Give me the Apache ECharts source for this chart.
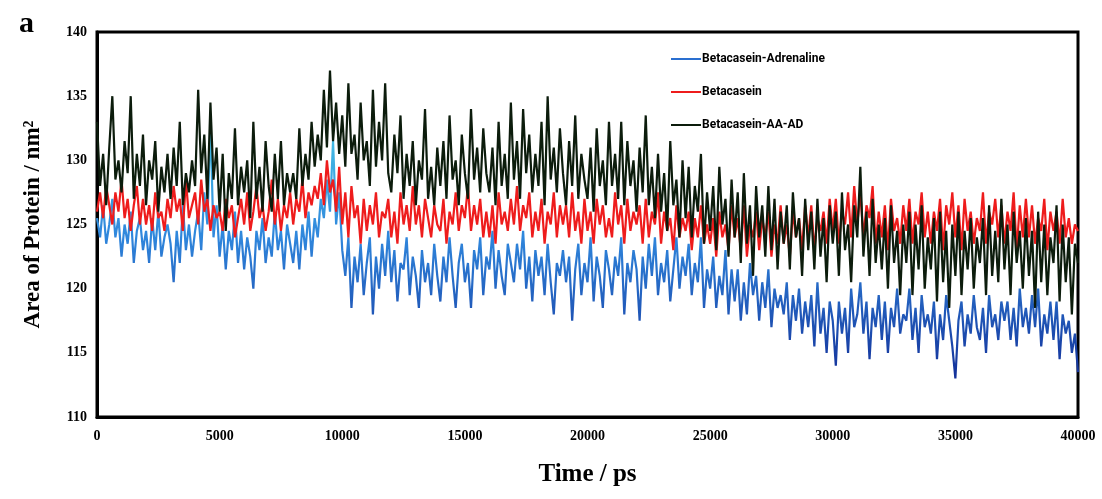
<!DOCTYPE html>
<html>
<head>
<meta charset="utf-8">
<script src="https://cdn.jsdelivr.net/npm/echarts@6/dist/echarts.min.js"></script>
<style>
    html, body { margin: 0; padding: 0; background: #fff; }
    #chart { width: 1102px; height: 499px; }
</style>
</head>
<body>
<div id="chart"></div>
<script>
    // sample spacing of the traces, ps
    const STEP = 125;

    const seriesNames = ['Betacasein-Adrenaline', 'Betacasein', 'Betacasein-AA-AD'];
    const xTicks = [0, 5000, 10000, 15000, 20000, 25000, 30000, 35000, 40000];
    const yTicks = [110, 115, 120, 125, 130, 135, 140];

    // area values, nm^2 (one row = 1000 ps)
    const adrenaline = [
        125.5, 124, 126.5, 123.5, 125, 127, 124, 125.5,
        122.5, 125, 123.5, 126, 122, 124.5, 125.5, 123,
        124.5, 122, 125.5, 123, 126, 122.5, 124, 125,
        123.5, 120.5, 124.5, 122, 126.5, 123, 125, 122.5,
        124.5, 126, 123, 127.5, 125, 133, 124, 126.5,
        122.5, 125, 121.5, 124.5, 123, 126, 122, 124.5,
        121.5, 124, 122.5, 120, 124.5, 123, 125.5, 122,
        124, 122.5, 126, 123, 124.5, 121.5, 125, 123.5,
        122, 124.5, 121.5, 125, 123, 126, 122.5, 125.5,
        124, 127, 125.5, 128.5, 126, 131.5, 125, 127.5,
        123, 121, 124, 118.5, 122.5, 120.5, 123.5, 119.5,
        122, 124, 118, 122.5, 120, 123.5, 121, 124.5,
        120.5, 123, 119, 122, 121.5, 124, 119.5, 122.5,
        121, 118.5, 123, 120.5, 122, 119.5, 123.5, 121,
        119, 122.5, 120.5, 124, 121, 118.5, 122, 123.5,
        120.5, 122, 118.5, 123, 121.5, 124, 119.5, 122.5,
        121.5, 124.5, 120, 123, 121, 119.5, 123.5, 122,
        120.5, 123.5, 121.5, 124.5, 120, 122.5, 119, 123,
        121, 122.5, 119.5, 123.5, 120.5, 118, 122, 121,
        123, 120.5, 122.5, 117.5, 121.5, 123.5, 119.5, 122,
        120.5, 124, 119, 122.5, 121, 118.5, 123, 121.5,
        119.5, 122.5, 121, 124, 118, 122, 120.5, 123,
        121.5, 117.5, 122.5, 120, 123.5, 121, 124, 119.5,
        122, 120.5, 123, 119, 121.5, 124, 120, 122.5,
        121, 123.5, 119.5, 122, 120.5, 124, 118.5, 121.5,
        120, 122.5, 118.5, 121, 119.5, 123, 118, 121.5,
        119, 121.5, 117.5, 120.5, 118, 122, 119.5, 121,
        117.5, 120.5, 118.5, 121.5, 117, 120, 118.5, 119.5,
        118, 120.5, 116, 119.5, 117.5, 120, 116.5, 119,
        117, 119.5, 115.5, 120.5, 116.5, 118.5, 115, 119,
        117.5, 114, 119, 116.5, 118.5, 115, 120, 117,
        118, 120.5, 116.5, 119, 114.5, 118.5, 117, 119.5,
        116, 119, 115, 118.5, 117, 120, 116.5, 118,
        117.5, 120, 116, 118.5, 115, 119.5, 117, 118,
        116.5, 119, 114.5, 118, 116, 119.5, 117.5, 115.5,
        113, 117.5, 119, 115.5, 118, 116.5, 119.5, 117,
        116, 118.5, 115, 119.5, 117, 118, 116, 119,
        117.5, 119, 116, 118.5, 115.5, 120, 117, 118.5,
        116.5, 119.5, 117, 120, 115.5, 118, 116.5, 119,
        116, 119, 114.5, 118, 116.5, 117.5, 115, 116.5,
        113.5
    ];
    const betacasein = [
        126, 127.5, 125.5, 128, 126.5, 125, 127.5, 126,
        128.5, 125.5, 127, 124.5, 126.5, 128, 125, 127,
        125, 126.5, 124.5, 127.5, 125.5, 126, 124.5, 127,
        125.5, 128, 126, 127, 124.5, 128.5, 125.5, 126.5,
        127.5, 125, 128.5, 126, 127, 124.5, 126.5, 125.5,
        126, 124.5, 127, 125.5, 126.5, 124, 125.5, 127,
        125, 127.5, 124.5, 126, 128, 125.5, 126.5, 124.5,
        126, 128.5, 125, 127, 124.5, 126.5, 125.5, 127.5,
        125, 127, 126, 128.5, 125.5, 127.5, 126.5, 128,
        127, 129, 126.5, 130, 127.5, 128.5, 126, 129.5,
        125, 127.5, 124, 128, 125.5, 126.5, 123.5, 127,
        124.5, 126.5, 125, 127.5, 124, 126, 125.5, 127,
        124, 126, 123.5, 127.5, 125, 126.5, 124.5, 128,
        125, 126.5, 124, 127, 125.5, 124, 126.5, 125,
        124.5, 127, 123.5, 126, 125, 127.5, 124.5, 126.5,
        125.5, 128, 124.5, 126.5, 125, 127, 124, 126,
        124, 126.5, 123.5, 127.5, 125, 126, 124.5, 127,
        125, 128, 124.5, 126.5, 125.5, 127.5, 124, 126,
        124.5, 127, 123.5, 126, 125, 127.5, 124, 126.5,
        125, 126.5, 124, 127.5, 124.5, 126, 123.5, 127,
        124.5, 126, 123.5, 127, 125, 126.5, 124, 125.5,
        124, 127.5, 125, 126.5, 123.5, 127, 124.5, 126,
        125, 126.5, 123.5, 127, 124, 126, 125, 127.5,
        123.5, 126, 124.5, 125.5, 123, 126.5, 124, 125.5,
        124.5, 126, 123, 125.5, 124, 126.5, 123.5, 125,
        123.5, 125.5, 122.5, 126, 124, 125, 123, 126.5,
        124, 125.5, 123, 126.5, 122.5, 125, 124, 126,
        123, 125.5, 124, 126, 122.5, 125, 123.5, 126.5,
        123.5, 125, 122.5, 126, 124, 125.5, 123, 126.5,
        124, 126.5, 123, 125.5, 124.5, 126, 123.5, 127,
        124.5, 127, 123.5, 126, 125, 127.5, 124, 128,
        125, 127.5, 124, 126.5, 125.5, 128, 123.5, 126,
        124, 126.5, 123, 127, 124.5, 125.5, 123.5, 126.5,
        124.5, 127, 123.5, 126, 125, 127.5, 124, 126,
        123.5, 126, 124.5, 127, 123, 126.5, 125, 127.5,
        124, 126.5, 123, 127, 124.5, 126, 123.5, 125.5,
        124.5, 127.5, 123.5, 126, 125, 127, 124, 126.5,
        123.5, 126, 124.5, 127.5, 123, 126.5, 124, 127,
        124, 126.5, 123.5, 125.5, 124.5, 127, 123, 126,
        124.5, 126, 123.5, 127, 124, 125.5, 123.5, 125,
        124.5
    ];
    const aaAd = [
        133, 128, 130.5, 126.5, 131, 135, 128.5, 130,
        127.5, 131.5, 129, 135, 127, 130.5, 128, 132,
        126.5, 130, 128.5, 131.5, 126, 129.5, 127.5, 130.5,
        127, 131, 128, 133, 126.5, 129, 127.5, 130,
        128, 135.5, 129, 132, 127, 134.5, 128.5, 131,
        126, 130.5, 124.5, 129, 127, 132.5, 126.5, 129.5,
        127.5, 130, 125.5, 133, 127, 129.5, 126, 131.5,
        128, 126, 130.5, 127, 131.5, 126.5, 129, 127.5,
        129, 127, 132.5, 128, 130.5, 128.5, 133, 129.5,
        132, 130, 135.5, 131, 137, 131.5, 134.5, 130.5,
        133.5, 129.5, 136, 130.5, 132, 128.5, 134.5, 130,
        131.5, 128, 135.5, 129.5, 133, 130, 136, 129,
        127.5, 132, 129, 133.5, 127, 130.5, 128, 131.5,
        126.5, 130, 128.5, 134, 127, 129.5, 126.5, 131,
        128, 131.5, 127, 133.5, 128.5, 130, 126.5, 132,
        129, 127, 134, 128.5, 131, 127.5, 132.5, 129,
        127.5, 131, 126.5, 133, 128, 130.5, 127, 134.5,
        128.5, 131.5, 127, 134, 129, 132, 127.5, 130.5,
        128, 133, 126.5, 135, 128.5, 131, 127.5, 132.5,
        129, 126.5, 131.5, 128, 133.5, 127, 130.5, 128.5,
        127, 131, 126, 132.5, 128, 130, 126.5, 133,
        128, 130.5, 127, 133, 126.5, 131.5, 128, 130,
        126, 131, 127.5, 133.5, 126.5, 129.5, 125.5, 130.5,
        126, 129, 124.5, 131.5, 126.5, 128.5, 124, 130,
        125.5, 129.5, 124, 128, 126, 130.5, 123.5, 127.5,
        124.5, 128, 123, 129.5, 125, 127, 122.5, 128.5,
        124, 127.5, 122, 129, 123.5, 126.5, 121, 128,
        124, 126.5, 122.5, 128, 123, 127, 121.5, 126,
        123.5, 126.5, 121.5, 127.5, 124, 125.5, 121, 127,
        123, 126, 121.5, 127, 122.5, 125.5, 120.5, 126.5,
        123.5, 126, 121, 127.5, 123, 125, 120.5, 126.5,
        124, 129.5, 122.5, 126, 121, 127, 122, 125,
        121.5, 125.5, 120, 126.5, 122, 124.5, 119.5, 125,
        122, 126, 119.5, 125, 121.5, 126.5, 120, 124,
        121.5, 125.5, 119, 126, 120.5, 124.5, 118.5, 125,
        121, 126, 119.5, 124.5, 121.5, 125.5, 120, 124,
        122, 125.5, 119.5, 126.5, 121, 124.5, 120.5, 127,
        121.5, 125, 119.5, 126, 122, 124.5, 120, 125.5,
        121, 124.5, 118.5, 126, 120.5, 125, 119.5, 124,
        122, 126.5, 119, 125, 120.5, 124, 118, 123.5,
        122
    ];

    const toPoints = (values) => values.map((v, i) => [i * STEP, v]);

    let myChart = echarts.init(document.getElementById('chart'));

    const serif = '"Liberation Serif", "DejaVu Serif", serif';

    let option = {
        animation: false,
        backgroundColor: '#fff',
        grid: {
            left: 97,
            right: 24,
            top: 32,
            bottom: 82,
            show: true,
            borderColor: '#000',
            borderWidth: 3,
            backgroundColor: 'transparent'
        },
        title: {
            text: 'a',
            left: 14,
            top: 4,
            textStyle: {fontFamily: serif, fontSize: 30, fontWeight: 'bold', color: '#000'}
        },
        legend: {
            orient: 'vertical',
            left: 666,
            top: 48,
            itemWidth: 30,
            itemHeight: 14,
            itemGap: 21,
            data: seriesNames.map((n) => ({name: n, icon: 'path://M0,6 L30,6 L30,8 L0,8 Z'})),
            textStyle: {fontFamily: 'Roboto, sans-serif', fontSize: 12, fontWeight: 'bold', color: '#000', padding: [0, 0, 0, -4]}
        },
        xAxis: {
            type: 'value',
            min: 0,
            max: 40000,
            interval: 5000,
            name: 'Time / ps',
            nameLocation: 'middle',
            nameGap: 45,
            nameTextStyle: {fontFamily: serif, fontSize: 25, fontWeight: 'bold', color: '#000'},
            axisLine: {show: true, lineStyle: {color: '#000', width: 3}},
            axisTick: {show: false},
            splitLine: {show: false},
            axisLabel: {
                fontFamily: serif, fontSize: 14, fontWeight: 'bold', color: '#000', margin: 12,
                formatter: (v) => (xTicks.indexOf(v) >= 0 ? String(v) : '')
            }
        },
        yAxis: {
            type: 'value',
            min: 110,
            max: 140,
            interval: 5,
            name: 'Area of Protein / nm²',
            nameLocation: 'middle',
            nameGap: 52,
            nameTextStyle: {fontFamily: serif, fontSize: 23, fontWeight: 'bold', color: '#000'},
            axisLine: {show: true, lineStyle: {color: '#000', width: 3}},
            axisTick: {show: false},
            splitLine: {show: false},
            axisLabel: {
                fontFamily: serif, fontSize: 14, fontWeight: 'bold', color: '#000', margin: 10,
                formatter: (v) => (yTicks.indexOf(v) >= 0 ? String(v) : '')
            }
        },
        series: [
            {
                name: seriesNames[0],
                type: 'line',
                data: toPoints(adrenaline),
                symbol: 'none',
                color: '#2a6fd0',
                lineStyle: {
                    width: 2.2,
                    // lighter cyan at the top of the trace, navy at the dips
                    color: new echarts.graphic.LinearGradient(0, 0, 0, 1, [
                        {offset: 0, color: '#47c6e6'},
                        {offset: 0.45, color: '#2f86dc'},
                        {offset: 1, color: '#132f98'}
                    ])
                },
                z: 1
            },
            {
                name: seriesNames[1],
                type: 'line',
                data: toPoints(betacasein),
                symbol: 'none',
                color: '#ee1c1c',
                lineStyle: {width: 2.2, color: '#ee1c1c'},
                z: 2
            },
            {
                name: seriesNames[2],
                type: 'line',
                data: toPoints(aaAd),
                symbol: 'none',
                color: '#0c1c0c',
                lineStyle: {width: 2.2, color: '#0c1c0c'},
                z: 3
            }
        ]
    };

    myChart.setOption(option);
</script>
</body>
</html>
